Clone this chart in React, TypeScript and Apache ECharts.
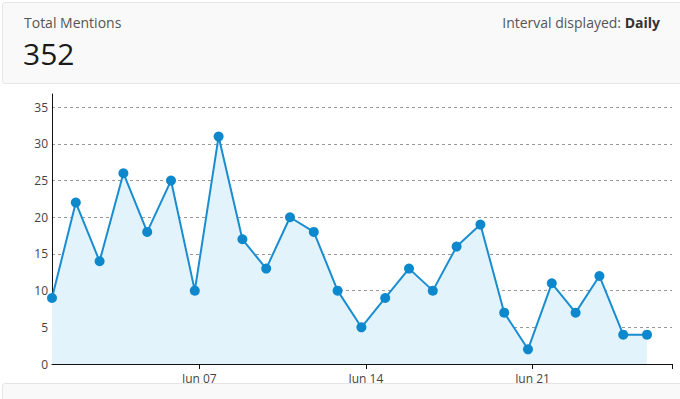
import React, { useEffect, useRef } from "react";
import * as echarts from "echarts";

// Day of June for each data point
const days: number[] = [1, 2, 3, 4, 5, 6, 7, 8, 9, 10, 11, 12, 13, 14, 15, 16, 17, 18, 19, 20, 21, 22, 23, 24, 25, 26];
// Daily mentions
const mentions: number[] = [9, 22, 14, 26, 18, 25, 10, 31, 17, 13, 20, 18, 10, 5, 9, 13, 10, 16, 19, 7, 2, 11, 7, 12, 4, 4];
// Tick labels (day of June)
const tickDays: number[] = [7, 14, 21];
const yTicks: number[] = [0, 5, 10, 15, 20, 25, 30, 35];

const TZ_SHIFT = 0.19; // points are plotted slightly before local midnight ticks
const X_SPAN = 26.05;
const Y_MAX = 36.8;

const total = mentions.reduce((a, b) => a + b, 0);

export default function App() {
  const ref = useRef<HTMLDivElement>(null);
  useEffect(() => {
    document.body.style.margin = "0";
    if (!ref.current) return;
    const chart = echarts.init(ref.current, undefined, { renderer: "svg" });
    const xMin = days[0] - TZ_SHIFT;
    const xMax = xMin + X_SPAN;
    chart.setOption({
      animation: false,
      textStyle: { fontFamily: "Open Sans" },
      grid: { left: 52, right: 8, top: 94, bottom: 35, containLabel: false },
      xAxis: {
        type: "value",
        min: xMin,
        max: xMax,
        axisLine: { show: true, lineStyle: { color: "#111", width: 1 } },
        axisTick: {
          show: true,
          length: 5,
          customValues: [...tickDays, xMax],
          lineStyle: { color: "#111", width: 1 },
        },
        axisLabel: {
          customValues: tickDays,
          color: "#444",
          fontSize: 12,
          margin: 8,
          fontFamily: "Open Sans",
          formatter: (v: number) => "Jun " + String(Math.round(v)).padStart(2, "0"),
        },
        splitLine: { show: false },
      },
      yAxis: {
        type: "value",
        min: 0,
        max: Y_MAX,
        interval: 5,
        axisLine: { show: true, lineStyle: { color: "#111", width: 1 } },
        axisTick: { show: false },
        axisLabel: {
          customValues: yTicks,
          color: "#444",
          fontSize: 12,
          margin: 4,
          fontFamily: "Open Sans",
        },
        splitLine: {
          show: true,
          showMinLine: false,
          showMaxLine: false,
          lineStyle: { color: "#999", type: [3, 3], width: 1 },
        },
      },
      series: [
        {
          type: "line",
          data: days.map((d, i) => [d - TZ_SHIFT, mentions[i]]),
          symbol: "circle",
          symbolSize: 10,
          showAllSymbol: true,
          lineStyle: { color: "#1a8dd0", width: 2 },
          itemStyle: { color: "#0e88cc" },
          areaStyle: { color: "#e3f3fc", opacity: 1 },
        },
      ],
    });
    return () => chart.dispose();
  }, []);

  return (
    <div style={{ position: "relative", width: 680, height: 399, overflow: "hidden", background: "#fff", fontFamily: "Open Sans" }}>
      <div ref={ref} style={{ position: "absolute", left: 0, top: 0, width: 680, height: 399 }} />
      <div
        style={{
          position: "absolute",
          left: 2,
          top: 2,
          width: 690,
          height: 82,
          background: "#f9f9f9",
          border: "1px solid #e6e6e6",
          borderRadius: 3,
          boxSizing: "border-box",
        }}
      >
        <div style={{ position: "absolute", left: 21, top: 10, fontSize: 14, color: "#555", lineHeight: "20px" }}>Total Mentions</div>
        <div style={{ position: "absolute", left: 20, top: 33, fontSize: 30, color: "#1a1a1a", lineHeight: "36px" }}>{total}</div>
        <div style={{ position: "absolute", right: 690 - 659, top: 10, fontSize: 14, color: "#555", lineHeight: "20px", whiteSpace: "nowrap" }}>
          Interval displayed: <b style={{ color: "#333" }}>Daily</b>
        </div>
      </div>
      <div
        style={{
          position: "absolute",
          left: 2,
          top: 383,
          width: 690,
          height: 30,
          background: "#f9f9f9",
          border: "1px solid #e6e6e6",
          borderRadius: 3,
          boxSizing: "border-box",
        }}
      />
    </div>
  );
}
